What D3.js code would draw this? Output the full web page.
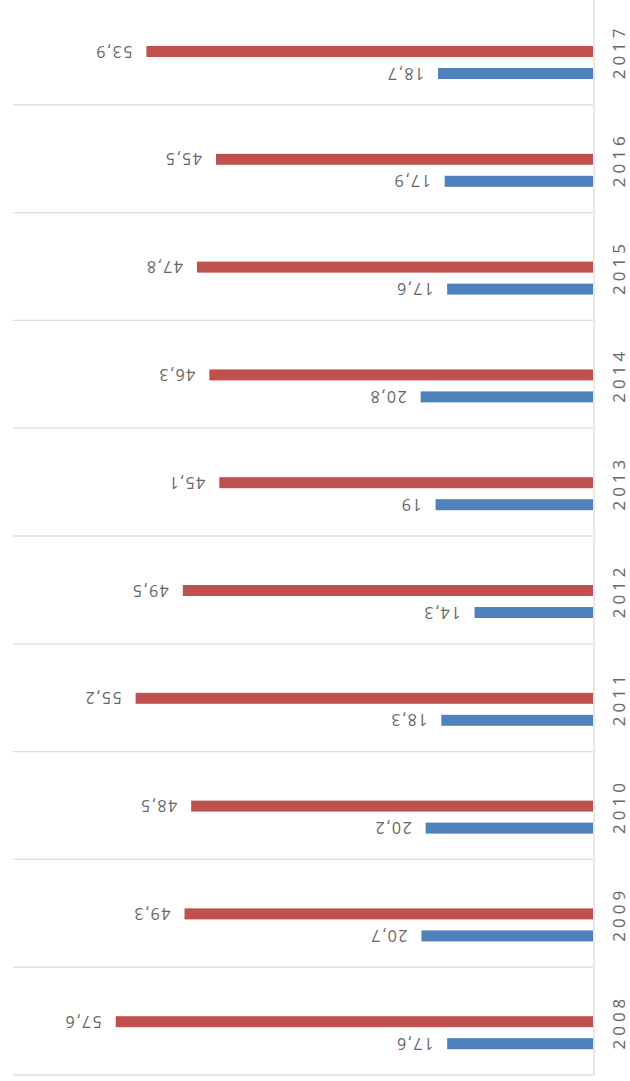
<!DOCTYPE html>
<html>
<head>
<meta charset="utf-8">
<script src="https://cdn.jsdelivr.net/npm/d3@7"></script>
<style>
  body { margin: 0; background: #fff; }
  svg { display: block; }
</style>
</head>
<body>
<svg id="chart"></svg>
<script>
var width = 630; // page width
var height = 1081; // page height

// chart data
var years = ["2008", "2009", "2010", "2011", "2012", "2013", "2014", "2015", "2016", "2017"];
var blueValues = [17.6, 20.7, 20.2, 18.3, 14.3, 19, 20.8, 17.6, 17.9, 18.7];
var redValues = [57.6, 49.3, 48.5, 55.2, 49.5, 45.1, 46.3, 47.8, 45.5, 53.9];
var seriesNames = ["red", "blue"];
var seriesColors = { red: "#C0504D", blue: "#4F81BD" };

var svg = d3.select("#chart")
    .attr("width", width)
    .attr("height", height);

// value axis runs right to left (chart is turned on its side)
var x = d3.scaleLinear().domain([0, 70]).range([593, 13]);

// categories from top (2017) to bottom (2008)
var y = d3.scaleBand()
    .domain(years.slice().reverse())
    .range([-3, 1075])
    .padding(0);

// position of each series inside a category
var inner = d3.scaleBand()
    .domain(seriesNames)
    .range([49, 82])
    .paddingInner(0.5)
    .paddingOuter(0);

// rows of data
var rows = years.map(function (yr, i) {
    return { year: yr, blue: blueValues[i], red: redValues[i] };
});

// separator lines between categories
var bounds = years.map(function (yr) { return y(yr) + y.bandwidth(); });
svg.selectAll("line.sep")
    .data(bounds)
    .enter().append("line")
    .attr("class", "sep")
    .attr("x1", x(70))
    .attr("x2", x(0))
    .attr("y1", function (d) { return d; })
    .attr("y2", function (d) { return d; })
    .style("stroke", "#dcdcdc")
    .style("stroke-width", 1.3);

// category axis line
svg.append("line")
    .attr("x1", x(0) + 1)
    .attr("x2", x(0) + 1)
    .attr("y1", 0)
    .attr("y2", 1075)
    .style("stroke", "#dcdcdc")
    .style("stroke-width", 1.3);

// bars
var bars = [];
rows.forEach(function (r) {
    seriesNames.forEach(function (s) {
        bars.push({ year: r.year, series: s, value: r[s] });
    });
});

svg.selectAll("rect.bar")
    .data(bars)
    .enter().append("rect")
    .attr("class", "bar")
    .attr("x", function (d) { return x(d.value); })
    .attr("y", function (d) { return y(d.year) + inner(d.series); })
    .attr("width", function (d) { return x(0) - x(d.value); })
    .attr("height", inner.bandwidth())
    .attr("fill", function (d) { return seriesColors[d.series]; });

// value labels, upside down like in the turned picture
svg.selectAll("text.val")
    .data(bars)
    .enter().append("text")
    .attr("class", "val")
    .attr("transform", function (d) {
        var tx = x(d.value) - 14;
        var ty = y(d.year) + inner(d.series) + inner.bandwidth() / 2;
        return "translate(" + tx + "," + ty + ") rotate(180)";
    })
    .attr("text-anchor", "start")
    .attr("dominant-baseline", "central")
    .style("font-family", "'Open Sans', sans-serif")
    .style("font-size", "16px")
    .style("letter-spacing", "1.5px")
    .style("fill", "#666666")
    .text(function (d) { return String(d.value).replace(".", ","); });

// year labels
svg.selectAll("text.year")
    .data(years)
    .enter().append("text")
    .attr("class", "year")
    .attr("transform", function (d) {
        return "translate(618," + (y(d) + y.bandwidth() / 2 + 1) + ") rotate(-90)";
    })
    .attr("text-anchor", "middle")
    .attr("dominant-baseline", "central")
    .style("font-family", "'Open Sans', sans-serif")
    .style("font-size", "17px")
    .style("letter-spacing", "4px")
    .style("fill", "#666666")
    .text(function (d) { return d; });
</script>
</body>
</html>
